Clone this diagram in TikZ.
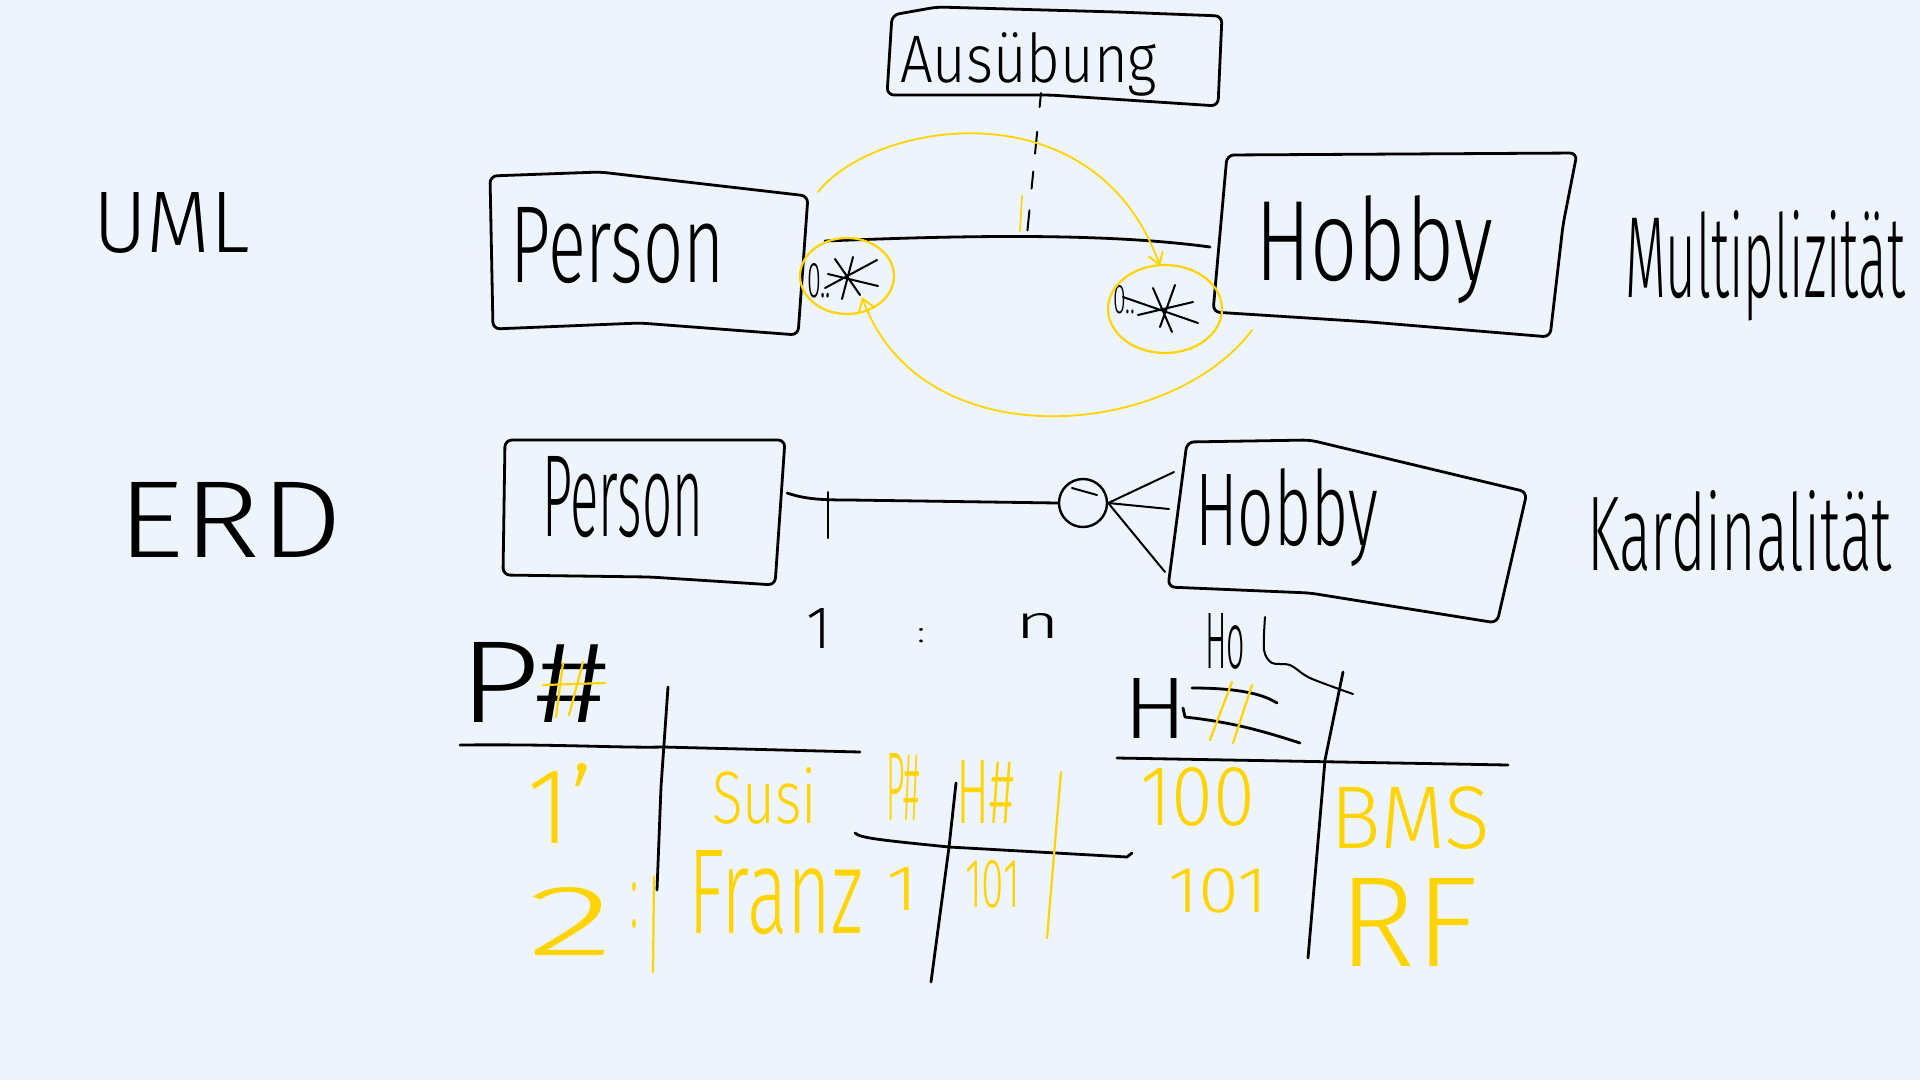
\documentclass[tikz,border=0pt]{standalone}
\usepackage{fontspec}
\usepackage{graphicx}
\setmainfont{Fira Sans Light}
\usetikzlibrary{arrows.meta}
\definecolor{bgc}{RGB}{237,244,251}
\definecolor{hl}{RGB}{255,212,0}
\newcommand\hwt[3]{\resizebox{#1pt}{#2pt}{#3}}
\begin{document}
\begin{tikzpicture}[x=1pt,y=-1pt,
  ink/.style={draw=black,line width=2.8pt,line cap=round,line join=round},
  fine/.style={draw=black,line width=2pt,line cap=round,line join=round},
  yel/.style={draw=hl,line width=2.2pt,line cap=round,line join=round},
  box/.style={ink,rounded corners=7pt},
  lbl/.style={anchor=base west,inner sep=0pt,outer sep=0pt,text=black},
  ylbl/.style={lbl,text=hl},
  tip/.style={-{Straight Barb[length=11pt,width=15pt,line width=2pt]}}
]
\fill[bgc] (0,0) rectangle (1920,1080);
\useasboundingbox (0,0) rectangle (1920,1080);

% ---------------- side labels
\node[lbl] (umlL) at (93,252) {\hwt{157}{60}{UML}};
\node[lbl] (erdL) at (117,557) {\hwt{226}{75}{ERD}};
\node[lbl] (multT) at (1625,297) {\hwt{280}{87}{Multiplizität}};
\node[lbl] (kardT) at (1587,570) {\hwt{305}{80}{Kardinalität}};

% ---------------- Ausuebung box
\draw[box] (892,15) -- (937,7) -- (1117,12) -- (1222,16) -- (1218,106) -- (1050,95) -- (887,95) -- cycle;
\node[lbl] (ausT) at (900,82) {\hwt{257}{50}{Ausübung}};
\coordinate (ausBot) at (1041,93);
\coordinate (umlMid) at (1027,235);
\draw[fine,dash pattern=on 14pt off 25pt on 22pt off 18pt on 17pt off 22pt on 20pt] (ausBot) -- (umlMid);
\draw[yel,line width=1.6pt] (1022,196) -- (1020,231);

% ---------------- UML boxes
\draw[box] (490,176) -- (600,172) -- (808,196) -- (798,335) -- (640,323) -- (493,329) -- cycle;
\node[lbl] (umlPT) at (510,282) {\hwt{215}{75}{Person}};
\draw[box] (1227,155) -- (1577,153) -- (1563,225) -- (1550,337) -- (1370,322) -- (1213,312) -- cycle;
\node[lbl] (umlHT) at (1255,280) {\hwt{238}{85}{Hobby}};

\coordinate (umlA) at (825,241);
\coordinate (umlB) at (1210,247);
\draw[ink] (umlA) .. controls (950,236) and (1100,232) .. (umlB);

% multiplicities
\node[lbl] (mulL) at (807,297) {\hwt{24}{34}{0..}};
\draw[fine] (835,259) -- (860,295) (853,257) -- (842,299) (828,274) -- (878,286) (825,288) -- (877,260);
\node[lbl] (mulR) at (1113,313) {\hwt{22}{28}{0..}};
\draw[fine] (1123,297) -- (1198,323) (1138,315) -- (1193,302) (1153,288) -- (1172,332) (1175,285) -- (1160,327);

% yellow highlights
\draw[yel] (847,276) ellipse [x radius=47pt, y radius=38pt];
\draw[yel] (1165,309) ellipse [x radius=57pt, y radius=44pt];
\coordinate (arcTopS) at (818,192);
\coordinate (arcTopE) at (1160,266);
\draw[yel,line width=1.8pt,tip] (arcTopS) .. controls (875,120) and (1095,85) .. (arcTopE);
\coordinate (arcBotS) at (1252,330);
\coordinate (arcBotE) at (862,297);
\draw[yel,line width=1.8pt,tip] (arcBotS) .. controls (1170,440) and (920,460) .. (arcBotE);

% ---------------- ERD boxes
\draw[box] (505,440) -- (785,440) -- (775,585) -- (650,577) -- (503,575) -- cycle;
\node[lbl] (erdPT) at (542,536) {\hwt{161}{80}{Person}};
\draw[box] (1187,442) -- (1310,440) -- (1527,492) -- (1497,623) -- (1310,593) -- (1168,587) -- cycle;
\node[lbl] (erdHT) at (1195,545) {\hwt{183}{77}{Hobby}};

\coordinate (erdA) at (787,493);
\node[draw,circle,minimum size=48pt,inner sep=0pt,line width=2.4pt] (zero) at (1083,503) {};
\draw[ink] (erdA) .. controls (805,499) and (820,500) .. (850,500) -- (zero.west);
\coordinate (tickT) at (828,492);
\coordinate (tickB) at (828,538);
\draw[fine] (tickT) -- (tickB);
\draw[fine] (1072,488) -- (1097,495);
\coordinate (crowU) at (1174,472);
\coordinate (crowM) at (1169,509);
\coordinate (crowL) at (1165,572);
\draw[fine] (zero.east) -- (crowU);
\draw[fine] (zero.east) -- (crowM);
\draw[fine] (zero.east) -- (crowL);

\node[lbl] (oneT) at (806,648) {\hwt{25}{40}{1}};
\node[lbl] (colT) at (917,642) {\hwt{8}{14}{:}};
\node[lbl] (nT) at (1015,638) {\hwt{45}{25}{n}};

% ---------------- table Person
\node[lbl] (pHash) at (458,722) {\hwt{150}{80}{P\#}};
\draw[yel] (563,663) -- (556,717) (583,662) -- (569,715) (543,685) -- (605,683);
\draw[ink] (460,745) .. controls (560,744) and (620,748) .. (663,747) -- (860,752);
\draw[ink] (668,687) -- (661,787) -- (657,890);
\node[ylbl] (y1) at (527,843) {\hwt{66}{80}{1'}};
\node[ylbl] (y2) at (527,955) {\hwt{87}{68}{2}};
\node[ylbl] (y2c) at (630,927) {\hwt{8}{45}{:}};
\draw[yel] (654,877) -- (653,972);
\node[ylbl] (susi) at (712,823) {\hwt{105}{56}{Susi}};
\node[ylbl] (franz) at (688,933) {\hwt{175}{83}{Franz}};

% ---------------- table Ausuebung
\node[ylbl] (mP) at (886,820) {\hwt{34}{67}{P\#}};
\node[ylbl] (mH) at (956,823) {\hwt{58}{63}{H\#}};
\draw[ink] (855,833) .. controls (860,838) and (880,840) .. (949,847) -- (1127,857) -- (1132,853);
\draw[ink] (956,783) -- (949,847) -- (931,982);
\draw[yel] (1061,772) -- (1047,938);
\node[ylbl] (m1) at (886,910) {\hwt{32}{43}{1}};
\node[ylbl] (m101) at (965,907) {\hwt{55}{47}{101}};

% ---------------- table Hobby
\node[lbl] (hoT) at (1205,668) {\hwt{40}{55}{Ho}};
\draw[fine] plot[smooth] coordinates {(1265,617) (1264,650) (1272,663) (1290,665) (1310,678) (1353,694)};
\node[lbl] (hH) at (1123,738) {\hwt{64}{60}{H}};
\draw[ink] (1192,688) .. controls (1230,688) and (1260,692) .. (1277,703);
\draw[ink] (1183,708) -- (1185,717) .. controls (1230,722) and (1260,730) .. (1300,743);
\draw[yel] (1232,682) -- (1210,740) (1252,685) -- (1233,743);
\draw[ink] (1117,758) -- (1508,765);
\draw[ink] (1343,672) -- (1325,760) -- (1308,958);
\node[ylbl] (h100) at (1140,825) {\hwt{115}{58}{100}};
\node[ylbl] (h101) at (1168,912) {\hwt{100}{44}{101}};
\node[ylbl] (bms) at (1330,848) {\hwt{160}{62}{BMS}};
\node[ylbl] (rf) at (1338,966) {\hwt{140}{88}{RF}};
\end{tikzpicture}
\end{document}
